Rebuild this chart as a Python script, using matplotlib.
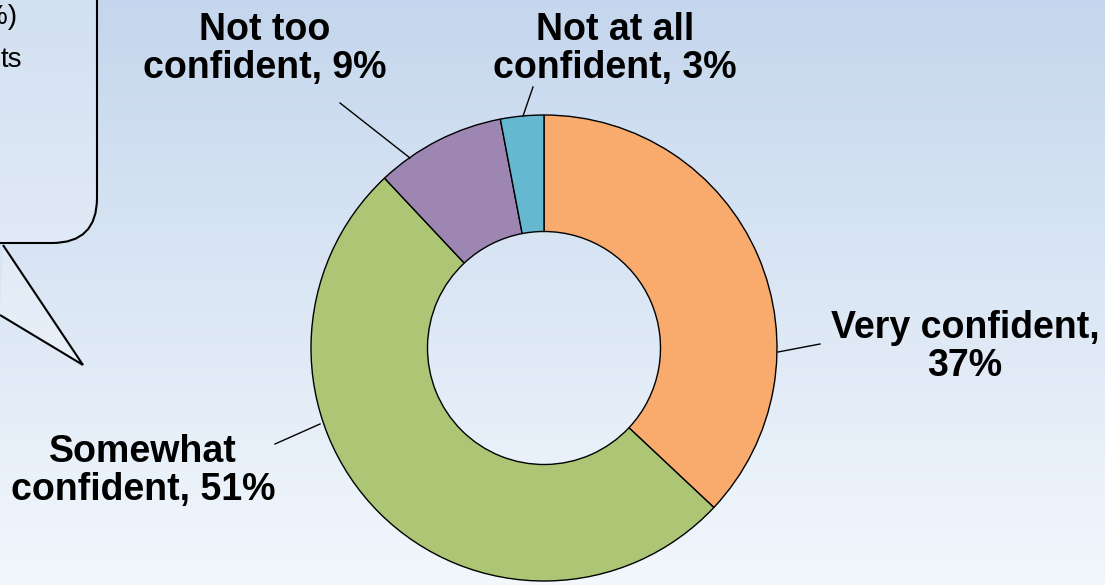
import numpy as np
import matplotlib.pyplot as plt
from matplotlib.patches import FancyBboxPatch, Polygon

W, H = 1105, 585

labels = ["Very confident", "Somewhat\nconfident", "Not too\nconfident", "Not at all\nconfident"]
values = [37, 51, 9, 3]
colors = ["#F9AB6E", "#ADC675", "#9E86B3", "#65B8CF"]

fig = plt.figure(figsize=(W / 100, H / 100), dpi=100)
ax = fig.add_axes([0, 0, 1, 1])

# background gradient (light blue top -> almost white bottom)
top = np.array([0.77, 0.84, 0.93])
bot = np.array([0.95, 0.97, 0.99])
t = np.linspace(0, 1, 256)[:, None]
grad = top * (1 - t) + bot * t
grad = np.repeat(grad[:, None, :], 2, axis=1)
ax.imshow(grad, extent=(0, W, 0, H), aspect='auto', zorder=0)

cx, cy, r = 544, H - 348, 233
ax.pie(values, colors=colors, startangle=90, counterclock=False,
       center=(cx, cy), radius=r,
       wedgeprops=dict(width=r * 0.5, edgecolor='black', linewidth=1))

font = dict(family='Liberation Sans', fontweight='bold', fontsize=27,
            ha='center', va='center', linespacing=1.1)

def lab(i, sep=", "):
    return f"{labels[i]}{sep}{values[i]}%"

ax.text(965, H - 347, lab(0, ",\n"), **font)
ax.text(143, H - 471, lab(1), **font)
ax.text(265, H - 49, lab(2), **font)
ax.text(615, H - 49, lab(3), **font)

# leader lines
for (x0, y0), (x1, y1) in [((778, 352), (820, 344)), ((320, 424), (275, 444)),
                           ((410, 158), (340, 103)), ((523, 116), (533, 87))]:
    ax.plot([x0, x1], [H - y0, H - y1], color='black', lw=1)

# cropped callout box in top-left corner
box = FancyBboxPatch((-150, H - 243), 247, 400,
                     boxstyle="round,pad=0,rounding_size=45",
                     facecolor=(1, 1, 1, 0.25), edgecolor='black', lw=1.5)
ax.add_patch(box)
ax.add_patch(Polygon([(3, H - 245), (83, H - 365), (0, H - 315)], closed=False,
                     facecolor=(1, 1, 1, 0.25), edgecolor='black', lw=1.5))
ax.text(17, H - 17, "%)", family='Liberation Sans', fontsize=20, ha='right', va='center')
ax.text(22, H - 60, "ts", family='Liberation Sans', fontsize=20, ha='right', va='center')

ax.set_xlim(0, W)
ax.set_ylim(0, H)
ax.set_aspect('auto')
ax.axis('off')

fig.savefig("out.png", dpi=100)
